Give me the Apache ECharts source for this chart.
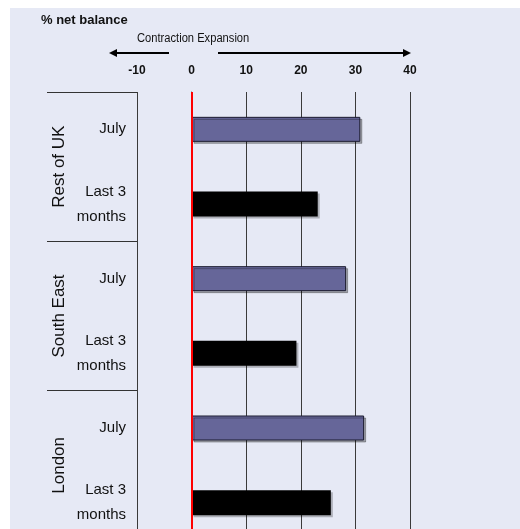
<!DOCTYPE html>
<html>
<head>
<meta charset="utf-8">
<script src="https://cdn.jsdelivr.net/npm/echarts@6/dist/echarts.min.js"></script>
<style>
  html, body { margin: 0; padding: 0; background: #fff; }
  #myChart {
    width: 520px;
    height: 529px;
    background: #fff linear-gradient(#e6e9f5, #e6e9f5) 10px 8px / 510px 521px no-repeat;
  }
</style>
</head>
<body>
<div id="myChart"></div>
<script>
  // data, top to bottom
  var regions = ['Rest of UK', 'South East', 'London'];
  var periods = ['July', 'Last 3\nmonths'];
  var julyValues = [30.9, 28.3, 31.6];
  var last3Values = [23.1, 19.2, 25.5];
  var xTicks = [-10, 0, 10, 20, 30, 40];

  var sans = "'Liberation Sans', Arial, sans-serif";

  var categories = [];
  var julyData = [];
  var last3Data = [];
  regions.forEach(function (r, i) {
    categories.push(r + '|' + periods[0], r + '|' + periods[1]);
    julyData.push(julyValues[i], null);
    last3Data.push(null, last3Values[i]);
  });

  var myChart = echarts.init(document.getElementById('myChart'));
  myChart.setOption({
    backgroundColor: 'transparent',
    animation: false,
    grid: {
      left: 137,
      right: 110,
      top: 92,
      bottom: -11,
      outerBoundsMode: 'none',
      containLabel: false
    },
    xAxis: {
      type: 'value',
      position: 'top',
      min: xTicks[0],
      max: xTicks[xTicks.length - 1],
      interval: 10,
      axisLine: { show: false },
      axisTick: { show: false },
      axisLabel: {
        margin: 15,
        color: '#111',
        fontWeight: 'bold',
        fontSize: 12,
        fontFamily: sans
      },
      splitLine: {
        show: true,
        lineStyle: { color: '#3a3a3a', width: 1 }
      }
    },
    yAxis: [
      {
        type: 'category',
        inverse: true,
        data: categories,
        axisLine: { show: true, lineStyle: { color: '#555', width: 1 } },
        axisTick: { show: false },
        axisLabel: {
          margin: 11,
          color: '#111',
          fontSize: 15,
          lineHeight: 25,
          padding: [4, 0, 0, 0],
          fontFamily: sans,
          formatter: function (v) { return v.split('|')[1]; }
        }
      },
      {
        type: 'category',
        inverse: true,
        position: 'left',
        data: regions,
        axisLine: { show: false },
        axisTick: { show: true, length: 90, lineStyle: { color: '#333', width: 1 } },
        axisLabel: {
          rotate: 90,
          margin: 69,
          color: '#111',
          fontSize: 17,
          fontFamily: sans
        }
      }
    ],
    series: [
      {
        name: 'July',
        type: 'bar',
        data: julyData,
        barWidth: 25,
        barGap: '-100%',
        itemStyle: {
          color: '#666699',
          borderColor: '#1a1a2e',
          borderWidth: 1,
          shadowColor: 'rgba(0,0,0,0.3)',
          shadowOffsetX: 2,
          shadowOffsetY: 2
        },
        markLine: {
          silent: true,
          symbol: 'none',
          label: { show: false },
          lineStyle: { color: '#ff0000', width: 2, type: 'solid' },
          data: [{ xAxis: 0 }],
          z: 10
        }
      },
      {
        name: 'Last 3 months',
        type: 'bar',
        data: last3Data,
        barWidth: 25,
        itemStyle: {
          color: '#000',
          shadowColor: 'rgba(0,0,0,0.25)',
          shadowOffsetX: 2,
          shadowOffsetY: 2
        }
      }
    ],
    graphic: [
      {
        type: 'text',
        left: 41,
        top: 14,
        style: {
          text: '% net balance',
          fill: '#111',
          font: 'bold 13px ' + sans
        }
      },
      {
        type: 'text',
        x: 137,
        y: 33,
        scaleX: 0.93,
        style: {
          text: 'Contraction Expansion',
          fill: '#111',
          font: '12px ' + sans
        }
      },
      // arrows
      {
        type: 'polyline',
        shape: { points: [[169, 53], [116, 53]] },
        style: { stroke: '#000', lineWidth: 2 }
      },
      {
        type: 'polygon',
        shape: { points: [[109, 53], [117, 49], [117, 57]] },
        style: { fill: '#000' }
      },
      {
        type: 'polyline',
        shape: { points: [[218, 53], [403, 53]] },
        style: { stroke: '#000', lineWidth: 2 }
      },
      {
        type: 'polygon',
        shape: { points: [[411, 53], [403, 49], [403, 57]] },
        style: { fill: '#000' }
      }
    ]
  });
</script>
</body>
</html>
